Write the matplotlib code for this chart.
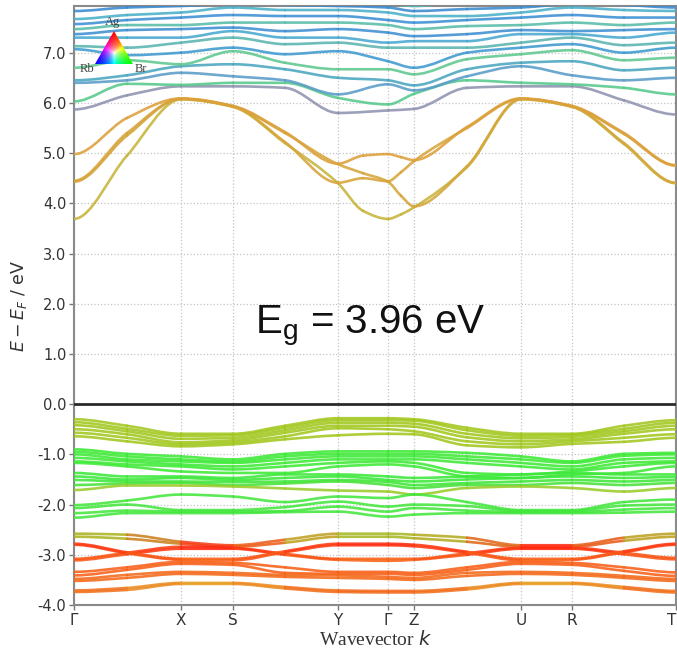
import numpy as np
import matplotlib
matplotlib.use("Agg")
import matplotlib.pyplot as plt
from matplotlib.path import Path
from matplotlib.patches import PathPatch, Polygon
import matplotlib.colors as mcolors

plt.rcParams["axes.unicode_minus"] = False

# ---------------- path through the Brillouin zone ----------------
kpath_labels = ["Γ", "X", "S", "Y", "Γ", "Z", "U", "R", "T"]
kpath_pos = [0, 107, 159, 264, 314, 340, 447, 498, 602]

# sampling positions along the path (high-symmetry points + segment mids)
K_MAIN = [0, 53, 107, 159, 211, 264, 314, 340, 393, 447, 498, 550, 602]
K_CB = [0, 53, 107, 159, 211, 264, 289, 314, 327, 340, 393, 447, 498, 550, 602]

# ---------------- lowest conduction bands (Br-like, orange) ----------------
cb_low = [
    [3.69, 4.95, 6.07, 5.92, 5.20, 4.40, 3.85, 3.69, 3.78, 3.92, 4.72, 6.07, 5.92, 5.18, 4.40],
    [4.43, 5.35, 6.08, 5.93, 5.40, 4.78, 4.60, 4.43, 4.15, 3.94, 4.74, 6.08, 5.93, 5.20, 4.41],
    [4.45, 5.40, 6.08, 5.93, 5.22, 4.41, 4.50, 4.44, 4.62, 4.84, 5.50, 6.08, 5.93, 5.38, 4.75],
    [4.98, 5.70, 6.09, 5.94, 5.42, 4.79, 4.95, 4.98, 4.92, 4.86, 5.52, 6.09, 5.94, 5.40, 4.76],
]
cb_low_colors = ["#C6B43A", "#D4A63A", "#D8A43A", "#DDA03C"]

# ---------------- higher conduction bands ----------------
cb_high = [
    [5.87, 6.15, 6.33, 6.33, 6.30, 5.80, 5.85, 5.88, 6.30, 6.33, 6.33, 6.05, 5.77],
    [6.03, 6.38, 6.36, 6.40, 6.40, 6.10, 5.97, 6.18, 6.45, 6.40, 6.37, 6.30, 6.17],
    [6.40, 6.45, 6.60, 6.53, 6.45, 6.17, 6.37, 6.25, 6.53, 6.73, 6.55, 6.45, 6.50],
    [6.45, 6.55, 6.73, 6.77, 6.67, 6.50, 6.45, 6.35, 6.67, 6.80, 6.83, 6.65, 6.70],
    [6.70, 6.85, 6.77, 7.03, 6.80, 6.67, 6.67, 6.57, 6.87, 6.97, 7.05, 6.85, 6.90],
    [7.07, 6.95, 7.00, 7.10, 6.97, 7.03, 6.83, 6.70, 7.00, 7.10, 7.17, 7.00, 7.10],
    [7.13, 7.10, 7.20, 7.30, 7.17, 7.20, 7.10, 7.10, 7.10, 7.20, 7.30, 7.15, 7.20],
    [7.30, 7.30, 7.30, 7.43, 7.30, 7.30, 7.20, 7.23, 7.23, 7.37, 7.37, 7.30, 7.40],
    [7.37, 7.45, 7.47, 7.50, 7.43, 7.47, 7.40, 7.33, 7.37, 7.45, 7.43, 7.45, 7.47],
    [7.47, 7.55, 7.55, 7.60, 7.60, 7.60, 7.55, 7.47, 7.53, 7.55, 7.60, 7.55, 7.60],
    [7.57, 7.65, 7.70, 7.75, 7.73, 7.73, 7.65, 7.60, 7.65, 7.70, 7.75, 7.70, 7.70],
    [7.67, 7.75, 7.80, 7.90, 7.85, 7.85, 7.80, 7.73, 7.73, 7.80, 7.90, 7.85, 7.83],
    [7.83, 7.90, 7.93, 7.97, 7.95, 7.93, 7.90, 7.83, 7.87, 7.90, 7.97, 7.95, 7.90],
    [7.98, 8.05, 8.05, 8.10, 8.10, 8.05, 7.98, 7.93, 8.00, 8.00, 8.10, 8.10, 8.05],
]
cb_high_colors = ["#8E93B0", "#55C98A", "#5A9CC8", "#4AA6C0", "#60C890", "#3F9AD0",
                  "#5AB4B0", "#48A8D0", "#3E8ED2", "#58BCA8", "#3C90D4", "#4AB0C8",
                  "#3A8AD0", "#56B8B8"]

# ---------------- valence bands ----------------
vb_top = [  # Ag/Br mixed, yellow-green
    [-0.30, -0.43, -0.59, -0.59, -0.43, -0.28, -0.28, -0.30, -0.47, -0.59, -0.59, -0.43, -0.32],
    [-0.36, -0.49, -0.63, -0.62, -0.47, -0.32, -0.32, -0.33, -0.52, -0.63, -0.61, -0.49, -0.37],
    [-0.42, -0.54, -0.69, -0.67, -0.52, -0.37, -0.37, -0.39, -0.59, -0.68, -0.65, -0.54, -0.43],
    [-0.50, -0.60, -0.76, -0.72, -0.57, -0.43, -0.43, -0.45, -0.66, -0.74, -0.70, -0.59, -0.50],
    [-0.57, -0.67, -0.80, -0.76, -0.64, -0.48, -0.50, -0.54, -0.74, -0.80, -0.74, -0.67, -0.60],
    [-0.64, -0.74, -0.84, -0.80, -0.70, -0.62, -0.59, -0.60, -0.82, -0.86, -0.79, -0.75, -0.67],
]
vb_br1 = [  # Br p, green
    [-0.90, -0.99, -1.04, -1.10, -0.99, -0.94, -0.94, -0.94, -0.97, -1.04, -1.14, -0.99, -0.97],
    [-0.95, -1.04, -1.10, -1.14, -1.04, -0.99, -0.99, -0.99, -1.04, -1.10, -1.17, -1.03, -1.00],
    [-1.00, -1.10, -1.14, -1.17, -1.10, -1.04, -1.04, -1.04, -1.10, -1.17, -1.24, -1.10, -1.07],
    [-1.07, -1.14, -1.20, -1.24, -1.17, -1.10, -1.10, -1.10, -1.17, -1.24, -1.30, -1.17, -1.14],
    [-1.14, -1.20, -1.24, -1.30, -1.24, -1.17, -1.14, -1.17, -1.37, -1.40, -1.34, -1.24, -1.17],
    [-1.17, -1.24, -1.34, -1.37, -1.37, -1.24, -1.20, -1.24, -1.44, -1.47, -1.40, -1.37, -1.24],
]
vb_br2 = [
    [-1.37, -1.44, -1.44, -1.47, -1.40, -1.40, -1.44, -1.47, -1.44, -1.40, -1.37, -1.40, -1.40],
    [-1.44, -1.50, -1.47, -1.51, -1.47, -1.44, -1.51, -1.54, -1.50, -1.47, -1.44, -1.47, -1.45],
    [-1.51, -1.54, -1.54, -1.55, -1.54, -1.51, -1.55, -1.61, -1.57, -1.54, -1.51, -1.54, -1.51],
    [-1.61, -1.58, -1.57, -1.61, -1.58, -1.54, -1.61, -1.67, -1.61, -1.61, -1.57, -1.61, -1.57],
    [-1.71, -1.62, -1.62, -1.64, -1.68, -1.72, -1.74, -1.80, -1.67, -1.64, -1.67, -1.74, -1.67],
]
vb_br2_colors = ["#3CE83A", "#3CE83A", "#40E63A", "#48E23A", "#9ACB2A"]
vb_br3 = [
    [-2.01, -1.92, -1.80, -1.84, -1.95, -1.84, -1.87, -1.80, -1.95, -2.11, -2.11, -1.95, -1.90],
    [-2.07, -2.00, -2.11, -2.11, -2.05, -1.94, -2.04, -2.00, -2.03, -2.13, -2.13, -2.02, -2.00],
    [-2.17, -2.12, -2.14, -2.14, -2.13, -2.04, -2.14, -2.07, -2.12, -2.15, -2.15, -2.10, -2.07],
    [-2.26, -2.17, -2.17, -2.17, -2.15, -2.14, -2.24, -2.20, -2.17, -2.17, -2.17, -2.16, -2.14],
]
vb_mix = [  # olive -> red
    [-2.58, -2.60, -2.74, -2.81, -2.70, -2.58, -2.58, -2.60, -2.66, -2.81, -2.81, -2.66, -2.58],
    [-2.64, -2.68, -2.78, -2.84, -2.76, -2.64, -2.64, -2.67, -2.74, -2.84, -2.84, -2.72, -2.64],
]
vb_mix_colors = ["#A8B824", "#B0B020", "#E8501A", "#FF3014", "#D88A20", "#A8B824",
                 "#A8B824", "#A8B824", "#C0A020", "#FF3014", "#FF3014", "#D08A20", "#A8B824"]
vb_rb = [  # Rb/Ag d, red-orange
    [-3.08, -2.96, -2.84, -2.86, -2.98, -3.08, -3.08, -3.08, -2.97, -2.86, -2.86, -2.96, -3.06],
    [-3.11, -2.99, -2.88, -2.88, -3.00, -3.10, -3.12, -3.10, -3.00, -2.88, -2.88, -2.99, -3.09],
    [-2.78, -2.95, -3.08, -3.08, -2.93, -2.78, -2.78, -2.80, -2.94, -3.08, -3.08, -2.93, -2.78],
    [-2.80, -2.97, -3.10, -3.11, -2.95, -2.81, -2.81, -2.83, -2.96, -3.11, -3.10, -2.95, -2.80],
]
vb_rb_colors = [
    ["#F86418", "#FA4A16", "#FF2A10", "#FF2A10", "#FA4A16", "#F86418", "#F86418",
     "#F86418", "#FA4A16", "#FF2A10", "#FF2A10", "#FA4A16", "#F86418"],
    ["#F86418", "#FA4A16", "#FF2A10", "#FF2A10", "#FA4A16", "#F86418", "#F86418",
     "#F86418", "#FA4A16", "#FF2A10", "#FF2A10", "#FA4A16", "#F86418"],
    ["#FF2A10", "#FA4A16", "#F86418", "#F86418", "#FA4A16", "#FF2A10", "#FF2A10",
     "#FF2A10", "#FA4A16", "#F86418", "#F86418", "#FA4A16", "#FF2A10"],
    ["#FF3012", "#FA4A16", "#F86418", "#F86418", "#FA4A16", "#FF3012", "#FF3012",
     "#FF3012", "#FA4A16", "#F86418", "#F86418", "#FA4A16", "#FF3012"],
]
vb_deep = [
    [-3.34, -3.25, -3.14, -3.16, -3.25, -3.34, -3.34, -3.36, -3.25, -3.14, -3.16, -3.25, -3.35],
    [-3.41, -3.30, -3.18, -3.20, -3.36, -3.38, -3.38, -3.40, -3.30, -3.18, -3.20, -3.32, -3.42],
    [-3.48, -3.40, -3.34, -3.36, -3.40, -3.41, -3.44, -3.46, -3.36, -3.34, -3.36, -3.42, -3.48],
    [-3.52, -3.46, -3.38, -3.40, -3.44, -3.46, -3.48, -3.50, -3.42, -3.38, -3.40, -3.46, -3.52],
    [-3.71, -3.66, -3.56, -3.56, -3.64, -3.71, -3.72, -3.72, -3.66, -3.56, -3.56, -3.64, -3.72],
    [-3.74, -3.70, -3.58, -3.58, -3.67, -3.74, -3.75, -3.75, -3.69, -3.58, -3.58, -3.67, -3.75],
]
deep_edge = ["#F26A1C", "#F0781E", "#E8A028", "#E8A028", "#F0781E", "#F26A1C", "#F26A1C",
             "#F26A1C", "#F0781E", "#E8A028", "#E8A028", "#F0781E", "#F26A1C"]
vb_deep_colors = ["#F86018", "#F86018", "#F46A1A", "#F46A1A", deep_edge, deep_edge]

band_gap = 3.96
y_ticks = [-4.0, -3.0, -2.0, -1.0, 0.0, 1.0, 2.0, 3.0, 4.0, 5.0, 6.0, 7.0]


def pchip_slopes(k, e):
    """Shape-preserving tangents, flat at the ends of the path."""
    h = np.diff(k)
    d = np.diff(e) / h
    m = np.zeros_like(e)
    for i in range(1, len(e) - 1):
        if d[i - 1] * d[i] > 0:
            w1 = 2 * h[i] + h[i - 1]
            w2 = h[i] + 2 * h[i - 1]
            m[i] = (w1 + w2) / (w1 / d[i - 1] + w2 / d[i])
    return m


def draw_band(ax, k, e, color, lw=1.9, alpha=0.88, z=3):
    k = np.asarray(k, float)
    e = np.asarray(e, float)
    m = pchip_slopes(k, e)
    h = np.diff(k)
    if isinstance(color, str):
        cols = [color] * len(k)
    else:
        cols = color
    for i in range(len(h)):
        verts = [(k[i], e[i]),
                 (k[i] + h[i] / 3, e[i] + m[i] * h[i] / 3),
                 (k[i + 1] - h[i] / 3, e[i + 1] - m[i + 1] * h[i] / 3),
                 (k[i + 1], e[i + 1])]
        codes = [Path.MOVETO, Path.CURVE4, Path.CURVE4, Path.CURVE4]
        c0 = np.array(mcolors.to_rgb(cols[i]))
        c1 = np.array(mcolors.to_rgb(cols[i + 1]))
        seg_col = (c0 + c1) / 2
        ax.add_patch(PathPatch(Path(verts, codes), facecolor="none", edgecolor=seg_col,
                               lw=lw, alpha=alpha, zorder=z, capstyle="round"))


fig = plt.figure(figsize=(6.77, 6.52), dpi=100)
ax = fig.add_axes([74 / 677, 1 - 605 / 652, 602 / 677, 599 / 652])

for band, col in zip(cb_high, cb_high_colors):
    draw_band(ax, K_MAIN, band, col)
for band, col in zip(cb_low, cb_low_colors):
    draw_band(ax, K_CB, band, col)
for band in vb_top:
    draw_band(ax, K_MAIN, band, "#A2C81E")
for band in vb_br1:
    draw_band(ax, K_MAIN, band, "#3EEA38")
for band, col in zip(vb_br2, vb_br2_colors):
    draw_band(ax, K_MAIN, band, col)
for band in vb_br3:
    draw_band(ax, K_MAIN, band, "#44E63E")
for band in vb_mix:
    draw_band(ax, K_MAIN, band, vb_mix_colors)
for band, col in zip(vb_rb, vb_rb_colors):
    draw_band(ax, K_MAIN, band, col)
for band, col in zip(vb_deep, vb_deep_colors):
    draw_band(ax, K_MAIN, band, col)

# Fermi level
ax.axhline(0.0, color="#2b2b2b", lw=2.0, zorder=4)

ax.set_xlim(kpath_pos[0], kpath_pos[-1])
ax.set_ylim(-4.0, 7.93)
ax.set_xticks(kpath_pos)
ax.set_xticklabels(kpath_labels, fontsize=11, color="#333333")
ax.get_xticklabels()[-1].set_horizontalalignment("right")
ax.set_yticks(y_ticks)
ax.set_yticklabels([f"{v:.1f}" for v in y_ticks], fontsize=10.5, color="#333333")
ax.tick_params(axis="both", direction="out", length=3.5, width=1.0, color="#777777", pad=2)
ax.grid(True, ls=":", lw=0.9, color="#c4c4c4", zorder=0)
ax.set_axisbelow(True)
for sp in ax.spines.values():
    sp.set_color("#8a8a8a")
    sp.set_linewidth(1.5)

ax.set_xlabel(r"Wavevector $k$", fontsize=14, family="Liberation Serif", color="#333333",
              labelpad=2)
ax.set_ylabel(r"$E - E_F$ / eV", fontsize=12.5, color="#333333", labelpad=6)

ax.text(0.492, 0.454, f"E$_\\mathregular{{g}}$ = {band_gap:.2f} eV", transform=ax.transAxes,
        fontsize=29, family="Liberation Sans", ha="center", va="baseline", color="#111111",
        zorder=6)

# ---------------- composition triangle (Ag / Rb / Br) ----------------
tax = fig.add_axes([95 / 677, 1 - 64 / 652, 38 / 677, 33 / 652])
tax.set_xlim(0, 1)
tax.set_ylim(0, 1)
tax.axis("off")
n = 120
xx, yy = np.meshgrid(np.linspace(0, 1, n), np.linspace(0, 1, n))
top, left, right = np.array([0.5, 1.0]), np.array([0.0, 0.0]), np.array([1.0, 0.0])
w_top = yy
w_right = xx - 0.5 * yy
w_left = 1 - w_top - w_right
w = np.clip(np.stack([w_top, w_right, w_left], axis=-1), 0, 1)
rgb = w / np.maximum(w.max(axis=-1, keepdims=True), 1e-6)
img = tax.imshow(rgb, origin="lower", extent=(0, 1, 0, 1), interpolation="bilinear", aspect="auto")
tri = Polygon([left, right, top], closed=True, transform=tax.transData, facecolor="none",
              edgecolor="none")
tax.add_patch(tri)
img.set_clip_path(tri)

fig.text(113 / 677, 1 - 22 / 652, "Ag", fontsize=9, family="Liberation Serif", color="#444444",
         ha="center", va="center")
fig.text(87 / 677, 1 - 69 / 652, "Rb", fontsize=9, family="Liberation Serif", color="#444444",
         ha="center", va="center")
fig.text(141 / 677, 1 - 69 / 652, "Br", fontsize=9, family="Liberation Serif", color="#444444",
         ha="center", va="center")

fig.savefig("out.png", dpi=100)
